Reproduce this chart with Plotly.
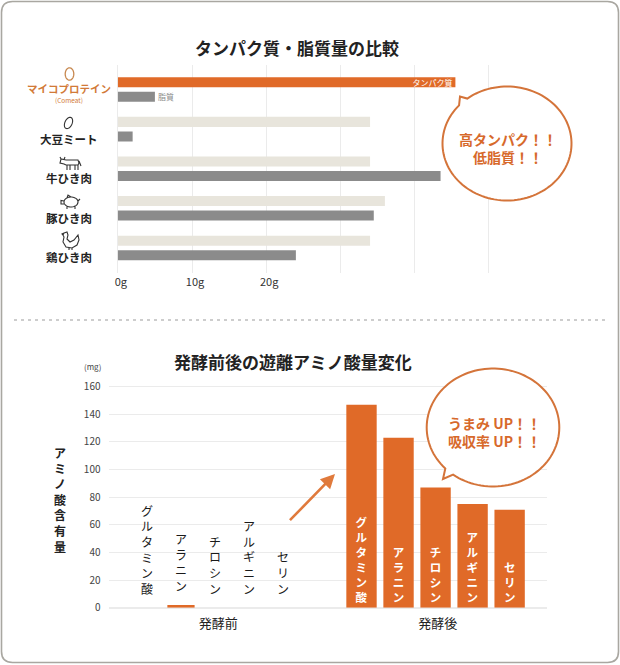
import numpy as np
import plotly.graph_objects as go

W, H = 620, 665
FONT = "Noto Sans CJK JP"


def fx(x):
    return x / W


def fy(y):
    return 1 - y / H


# ---------------- data ----------------
foods = ["マイコプロテイン", "大豆ミート", "牛ひき肉", "豚ひき肉", "鶏ひき肉"]
food_note = "(Comeat)"
protein = [45.5, 34, 34, 36, 34]
fat = [5, 2, 43.5, 34.5, 24]
protein_label = "タンパク質"
fat_label = "脂質"
x_ticks = [0, 10, 20, 30, 40, 50]
x_tick_labels = ["0g", "10g", "20g", "", "", ""]

amino = ["グルタミン酸", "アラニン", "チロシン", "アルギニン", "セリン"]
before = [0, 2, 0, 0, 0]
after = [147, 123, 87, 75, 71]
y_ticks = [0, 20, 40, 60, 80, 100, 120, 140, 160]
groups = ["発酵前", "発酵後"]

title_top = "タンパク質・脂質量の比較"
title_bottom = "発酵前後の遊離アミノ酸量変化"
y_title = "アミノ酸含有量"
unit = "(mg)"
bubble_top = ["高タンパク！！", "低脂質！！"]
bubble_bottom = ["うまみ UP！！", "吸収率 UP！！"]

# ---------------- styles ----------------
ORANGE = "#E06A28"
BEIGE = "#E8E5DC"
GRAY = "#8B8B8B"
GRID = "#EBEBEB"
BUBBLE = "#D4743A"
DARK = "#222222"


def vertical(s):
    return "<br>".join(list(s))


protein_colors = [ORANGE] + [BEIGE] * (len(foods) - 1)
protein_text = [protein_label] + [""] * (len(foods) - 1)
fat_text = [fat_label] + [""] * (len(foods) - 1)

fig = go.Figure()

# top chart
fig.add_trace(go.Bar(
    x=protein, y=foods, orientation="h", xaxis="x", yaxis="y",
    width=0.253, offset=-0.31,
    marker=dict(color=protein_colors, line_width=0),
    text=protein_text, textposition="inside", insidetextanchor="end",
    textfont=dict(color="white", size=8, family=FONT), constraintext="none",
    hoverinfo="skip", showlegend=False,
))
fig.add_trace(go.Bar(
    x=fat, y=foods, orientation="h", xaxis="x", yaxis="y",
    width=0.253, offset=0.057,
    marker=dict(color=GRAY, line_width=0),
    text=fat_text, textposition="outside",
    textfont=dict(color="#8a8a8a", size=8, family=FONT), constraintext="none",
    cliponaxis=False, hoverinfo="skip", showlegend=False,
))

# bottom chart - before
fig.add_trace(go.Bar(
    x=amino, y=before, xaxis="x2", yaxis="y2", width=0.8,
    marker=dict(color=ORANGE, line_width=0), hoverinfo="skip", showlegend=False,
))
fig.add_trace(go.Scatter(
    x=amino, y=before, xaxis="x2", yaxis="y2", mode="markers+text",
    marker=dict(size=16, color="rgba(0,0,0,0)"),
    text=[vertical(a) for a in amino], textposition="top center",
    textfont=dict(color="#1a1a1a", size=12, family=FONT),
    cliponaxis=False, hoverinfo="skip", showlegend=False,
))
# bottom chart - after
fig.add_trace(go.Bar(
    x=amino, y=after, xaxis="x3", yaxis="y2", width=0.82,
    marker=dict(color=ORANGE, line_width=0),
    text=[vertical(a) for a in amino], textposition="inside",
    insidetextanchor="start", textangle=0, constraintext="none",
    textfont=dict(color="white", size=11.5, family=FONT, weight="bold"),
    hoverinfo="skip", showlegend=False,
))

# ---------------- shapes ----------------
shapes = []


def rrect_path(x0, y0, x1, y1, r):
    return (f"M {fx(x0 + r)},{fy(y0)} L {fx(x1 - r)},{fy(y0)} "
            f"Q {fx(x1)},{fy(y0)} {fx(x1)},{fy(y0 + r)} "
            f"L {fx(x1)},{fy(y1 - r)} Q {fx(x1)},{fy(y1)} {fx(x1 - r)},{fy(y1)} "
            f"L {fx(x0 + r)},{fy(y1)} Q {fx(x0)},{fy(y1)} {fx(x0)},{fy(y1 - r)} "
            f"L {fx(x0)},{fy(y0 + r)} Q {fx(x0)},{fy(y0)} {fx(x0 + r)},{fy(y0)} Z")


shapes.append(dict(type="path", xref="paper", yref="paper",
                   path=rrect_path(1.5, 1.5, 618.5, 662.5, 11),
                   line=dict(color="#A9A7A1", width=1.6), fillcolor="rgba(0,0,0,0)",
                   layer="below"))

# dashed separator
shapes.append(dict(type="line", xref="paper", yref="paper",
                   x0=fx(14), x1=fx(605), y0=fy(320), y1=fy(320),
                   line=dict(color="#BDBDBD", width=1.5, dash="3px,4px")))


def bubble_path(cx, cy, rx, ry, a1, a2, tip):
    t = np.radians(np.linspace(a2, a1 + 360, 120))
    xs = cx + rx * np.cos(t)
    ys = cy + ry * np.sin(t)
    pts = [f"{fx(x)},{fy(y)}" for x, y in zip(xs, ys)]
    return "M " + " L ".join(pts) + f" L {fx(tip[0])},{fy(tip[1])} Z"


shapes.append(dict(type="path", xref="paper", yref="paper", layer="above",
                   path=bubble_path(507, 143.5, 64.5, 57, -138, -128, (460, 96.5)),
                   line=dict(color=BUBBLE, width=2), fillcolor="white"))
shapes.append(dict(type="path", xref="paper", yref="paper", layer="above",
                   path=bubble_path(493, 427.5, 66.3, 59, 127, 136, (443, 479)),
                   line=dict(color=BUBBLE, width=2), fillcolor="white"))


# icons (simple line drawings)
def icon_path(cx, cy, segs):
    out = []
    for seg in segs:
        pts = [f"{fx(cx + dx)},{fy(cy + dy)}" for dx, dy in seg]
        out.append("M " + " L ".join(pts))
    return " ".join(out)


def ellipse_seg(rx, ry, rot=0, n=40):
    t = np.linspace(0, 2 * np.pi, n)
    c, s = np.cos(np.radians(rot)), np.sin(np.radians(rot))
    x = rx * np.cos(t)
    y = ry * np.sin(t)
    return list(zip(x * c - y * s, x * s + y * c))


ICON_LINE = dict(color="#333333", width=1.1)
# egg
shapes.append(dict(type="path", xref="paper", yref="paper",
                   path=icon_path(69.5, 74, [ellipse_seg(4.3, 6.2)]),
                   line=dict(color="#C7884F", width=1.3)))
# bean
shapes.append(dict(type="path", xref="paper", yref="paper",
                   path=icon_path(68.5, 123, [ellipse_seg(3.6, 6.0, 25)]),
                   line=ICON_LINE))
# cow
shapes.append(dict(type="path", xref="paper", yref="paper",
                   path=icon_path(70, 163, [
                       [(-4, -3), (8, -3), (9, 0), (8, 2), (-4, 2)],
                       [(-4, -3), (-9, -4), (-10, 0), (-6, 1), (-4, 2)],
                       [(-9, -4), (-10, -6)], [(-6, -3.5), (-5, -6)],
                       [(-3, 2), (-3, 7)], [(0, 2), (0, 7)],
                       [(5, 2), (5, 7)], [(8, 2), (8, 7)],
                       [(9, -2), (11, 3)]]),
                   line=ICON_LINE))
# pig
shapes.append(dict(type="path", xref="paper", yref="paper",
                   path=icon_path(70, 202, [
                       [(x + 1, y) for x, y in ellipse_seg(7, 5)],
                       [(-6, -1), (-9, -1.5), (-9, 2), (-6, 2)],
                       [(-3, -4), (-2, -7), (1, -5)],
                       [(-3, 4), (-3, 7)], [(5, 4), (5, 7)],
                       [(8, -1), (10, -3)]]),
                   line=ICON_LINE))
# chicken
shapes.append(dict(type="path", xref="paper", yref="paper",
                   path=icon_path(70, 241, [
                       [(-6, -8), (-3, -9), (-2, -6), (-3, -2), (0, 1), (4, -1),
                        (8, -6), (9, -1), (7, 4), (2, 7), (-4, 6), (-7, 1), (-6, -4),
                        (-7, -6), (-6, -8)],
                       [(-6, -8), (-8, -7), (-7, -6)],
                       [(-1, 7), (-1, 9)], [(2, 7), (2, 9)]]),
                   line=ICON_LINE))

# ---------------- annotations ----------------
ann = []


def label(text, x, y, size, color=DARK, **kw):
    d = dict(text=text, x=x, y=y, xref="paper", yref="paper", showarrow=False,
             xanchor="center", yanchor="middle",
             font=dict(size=size, color=color, family=FONT))
    d.update(kw)
    return d


ann.append(label(f"<b>{title_top}</b>", fx(297), fy(47), 17))
ann.append(label(f"<b>{title_bottom}</b>", fx(293), fy(361), 17))

# food labels
for i, name in enumerate(foods):
    if i == 0:
        ann.append(label(f"<b>{name}</b>", fx(69), name, 10.5, "#D27A38", yref="y", yshift=1))
        ann.append(label(food_note, fx(69), name, 6.5, "#D27A38", yref="y", yshift=-10))
    else:
        ann.append(label(f"<b>{name}</b>", fx(69), name, 11.5, DARK, yref="y", yshift=-9.5))

# bubbles
ann.append(label("<b>" + "<br>".join(bubble_top) + "</b>", fx(508), fy(148), 14, "#D7692B"))
ann.append(label("<b>" + "<br>".join(bubble_bottom) + "</b>", fx(494), fy(432), 14, "#D7692B"))

# y title and unit
ann.append(label("<b>" + vertical(y_title) + "</b>", fx(60), fy(499), 12))
ann.append(label(unit, fx(92), fy(366), 8, "#444"))

# arrow
ann.append(dict(text="", x=fx(335), y=fy(474), xref="paper", yref="paper",
                ax=288.5 - 335, ay=521.7 - 474, axref="pixel", ayref="pixel",
                showarrow=True, arrowhead=2, arrowsize=1.1, arrowwidth=2.6,
                arrowcolor="#E07A3C"))

fig.update_layout(
    width=W, height=H, margin=dict(l=0, r=0, t=0, b=0, pad=0, autoexpand=False),
    autosize=False,
    paper_bgcolor="white", plot_bgcolor="rgba(0,0,0,0)",
    font=dict(family=FONT, color=DARK),
    showlegend=False, barmode="group",
    shapes=shapes, annotations=ann,
    xaxis=dict(domain=[fx(117.8), fx(492.5)], range=[0, 50.5], anchor="y",
               tickvals=x_ticks, ticktext=x_tick_labels, ticks="",
               showgrid=True, gridcolor=GRID, gridwidth=1,
               zeroline=True, zerolinecolor=GRID, zerolinewidth=1,
               showline=False, tickfont=dict(size=11, color="#333", family=FONT),
               ticklabelshift=3, ticklabelstandoff=1, fixedrange=True, automargin=False),
    yaxis=dict(domain=[fy(273), fy(65)], type="category", range=[4.634, -0.62],
               anchor="x", showticklabels=False, showgrid=False, zeroline=False,
               showline=False, ticks="", fixedrange=True, automargin=False),
    xaxis2=dict(domain=[fx(108.5), fx(328)], type="category", range=[-1.13, 5.32],
                anchor="y2", showticklabels=False, showgrid=False, zeroline=False,
                showline=False, ticks="", automargin=False, fixedrange=True,
                title=dict(text=groups[0], standoff=11,
                           font=dict(size=13, color=DARK, family=FONT))),
    xaxis3=dict(domain=[fx(328), fx(547.4)], type="category", range=[-0.905, 5.02],
                anchor="y2", showticklabels=False, showgrid=False, zeroline=False,
                showline=False, ticks="", automargin=False, fixedrange=True,
                title=dict(text=groups[1], standoff=11,
                           font=dict(size=13, color=DARK, family=FONT))),
    yaxis2=dict(domain=[fy(607.7), fy(384.5)], range=[0, 161.6], anchor="x2",
                tickvals=y_ticks, ticks="", showgrid=True, gridcolor=GRID,
                zeroline=True, zerolinecolor=GRID, showline=False,
                tickfont=dict(size=10, color="#444", family=FONT),
                ticklabelstandoff=7, fixedrange=True, automargin=False),
)

fig.write_html(
    "out.html",
    config={"displayModeBar": False},
    post_script="document.body.style.margin='0';document.body.style.overflow='hidden';",
)
